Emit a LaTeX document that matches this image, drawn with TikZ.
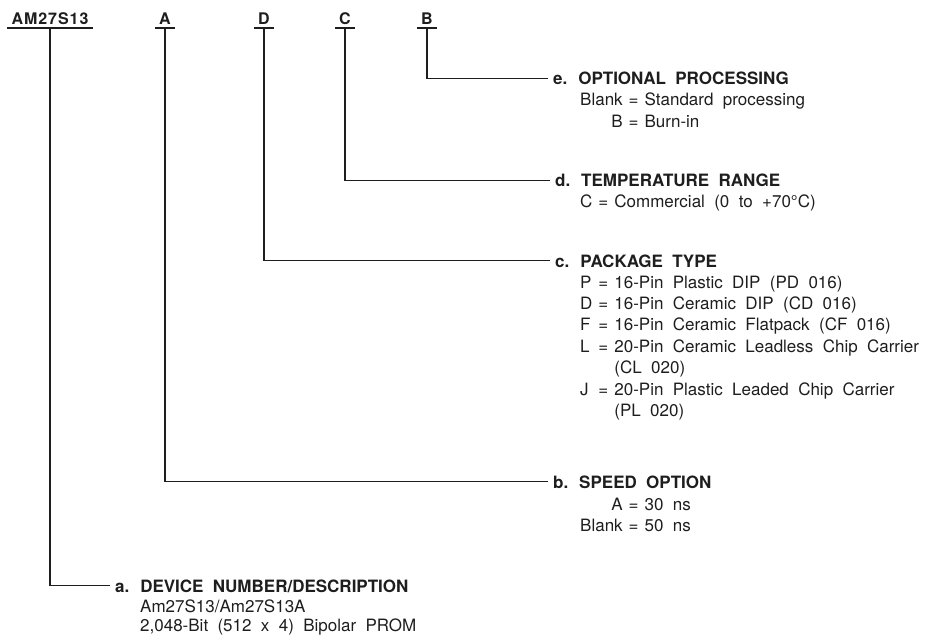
\documentclass[tikz,border=0pt]{standalone}
\usepackage{fontspec}
\setmainfont{TeX Gyre Heros}
\usepackage{xcolor}
\definecolor{vink}{HTML}{1e1e1e}
\newcommand{\optgap}{\hspace{6pt}}
\newcommand{\widewords}{\setlength{\spaceskip}{.55em}}
\tikzset{
	partno/.style={font=\bfseries\fontsize{16}{19}\selectfont\addfontfeature{LetterSpace=6}, text=vink, anchor=base, inner xsep=4pt, inner ysep=3pt, text depth=0pt},
	option/.style={font=\bfseries\fontsize{17}{21.4}\selectfont\widewords, text=vink, anchor=base west, inner xsep=5pt, inner ysep=0pt, text depth=0pt},
	choice/.style={font=\fontsize{17}{21.4}\selectfont\widewords, text=vink, anchor=base west, inner sep=0pt},
	lead/.style={draw=vink, line width=1.4pt},
}

\begin{document}
\begin{tikzpicture}[x=1pt, y=-1pt]
		\useasboundingbox (0,0) rectangle (928,636);
		\node[partno] (dev) at (50,25) {AM27S13};
		\node[partno] (spd) at (165,25) {A};
		\node[partno] (pkg) at (264,25) {D};
		\node[partno] (tmp) at (345,25) {C};
		\node[partno] (prc) at (427,25) {B};
		\foreach \n in {dev,spd,pkg,tmp,prc}
			\draw[lead] (\n.south west) -- (\n.south east);
		\node[option] (prcT) at (548,85) {e. OPTIONAL PROCESSING};
		\node[option] (tmpT) at (550,187) {d. TEMPERATURE RANGE};
		\node[option] (pkgT) at (550,267) {c. PACKAGE TYPE};
		\node[option] (spdT) at (548,488) {b. SPEED OPTION};
		\node[option] (devT) at (110,592) {a. DEVICE NUMBER/DESCRIPTION};
		\node[choice] (prcL) at (580,106) {\begin{tabular}[t]{@{}r@{\optgap}c@{\optgap}l@{}}
			Blank & = & Standard processing\\
			B & = & Burn-in
		\end{tabular}};
		\node[choice] (tmpL) at (580,208) {\begin{tabular}[t]{@{}l@{\optgap}c@{\optgap}l@{}}
			C & = & Commercial (0 to +70°C)
		\end{tabular}};
		\node[choice] (pkgL) at (580,288) {\begin{tabular}[t]{@{}l@{\optgap}c@{\optgap}l@{}}
			P & = & 16-Pin Plastic DIP (PD 016)\\
			D & = & 16-Pin Ceramic DIP (CD 016)\\
			F & = & 16-Pin Ceramic Flatpack (CF 016)\\
			L & = & 20-Pin Ceramic Leadless Chip Carrier\\
			 & & (CL 020)\\
			J & = & 20-Pin Plastic Leaded Chip Carrier\\
			 & & (PL 020)
		\end{tabular}};
		\node[choice] (spdL) at (580,510) {\begin{tabular}[t]{@{}r@{\optgap}c@{\optgap}l@{}}
			A & = & 30 ns\\
			Blank & = & 50 ns
		\end{tabular}};
		\node[choice] (devL) at (140,612) {\begin{tabular}[t]{@{}l@{}}
			Am27S13/Am27S13A\\[-2pt]
			2,048-Bit (512 x 4) Bipolar PROM
		\end{tabular}};
		\draw[lead] (prc.south) |- (prcT.west);
		\draw[lead] (tmp.south) |- (tmpT.west);
		\draw[lead] (pkg.south) |- (pkgT.west);
		\draw[lead] (spd.south) |- (spdT.west);
		\draw[lead] (dev.south) |- (devT.west);
	\end{tikzpicture}
\end{document}
